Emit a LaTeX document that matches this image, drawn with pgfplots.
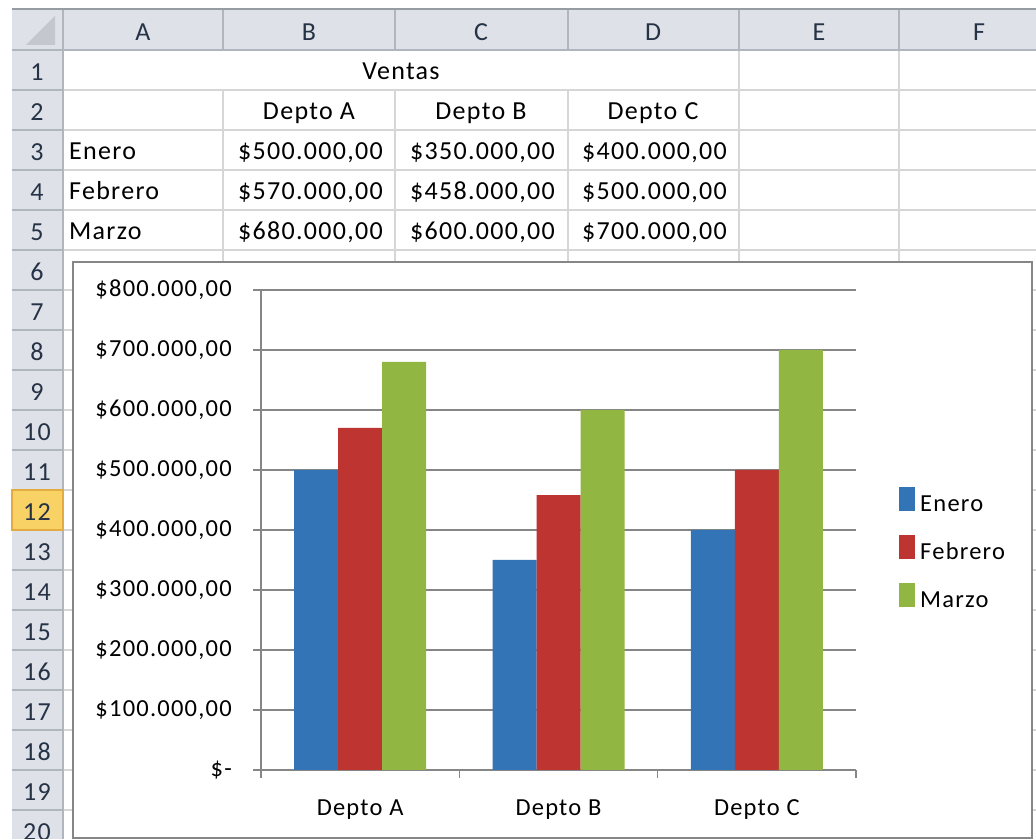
\documentclass[border=0pt]{standalone}
\usepackage{pgfplots}
\pgfplotsset{compat=1.18}
\usepackage{fontspec}
\setmainfont{Carlito}[LetterSpace=5]
\definecolor{hdr}{RGB}{222,226,232}
\definecolor{hdrline}{RGB}{176,182,190}
\definecolor{hdrtop}{RGB}{150,156,164}
\definecolor{hdrtext}{RGB}{38,50,70}
\definecolor{cellline}{RGB}{214,214,214}
\definecolor{chartgray}{RGB}{134,134,134}
\definecolor{cEnero}{RGB}{50,116,181}
\definecolor{cFeb}{RGB}{190,52,48}
\definecolor{cMar}{RGB}{146,182,66}
\definecolor{selfill}{RGB}{248,210,100}
\definecolor{selline}{RGB}{228,172,64}
\definecolor{corner}{RGB}{196,200,206}
\newcommand{\cellfont}{\fontsize{26bp}{30bp}\selectfont}
\newcommand{\chartfont}{\fontsize{24.5bp}{28bp}\selectfont}
\pgfplotsset{sqlegend/.style={legend image code/.code={\path (0bp,-6bp) rectangle (16bp,18bp);\fill[##1] (0bp,2bp) rectangle (16bp,18bp);}}}
\begin{document}
\begin{tikzpicture}[x=1bp,y=1bp]
\clip (0,0) rectangle (1036,839);
\fill[white] (0,0) rectangle (1036,839);
% ---- spreadsheet grid ----
\foreach \n in {1,...,20} {
  \draw[cellline, line width=1.5bp] (63,{839-50-40*\n}) -- (1036,{839-50-40*\n});
}
\foreach \x in {223,395,568} {
  \draw[cellline, line width=1.5bp] (\x,0) -- (\x,{839-90});
}
\foreach \x in {739,899} {
  \draw[cellline, line width=1.5bp] (\x,0) -- (\x,{839-50});
}
% headers
\fill[hdr] (12,0) rectangle (63,{839-9});
\fill[hdr] (12,{839-50}) rectangle (1036,{839-9});
\foreach \n in {1,...,20} {
  \draw[hdrline, line width=1.5bp] (12,{839-50-40*\n}) -- (63,{839-50-40*\n});
}
\foreach \x in {63,223,395,568,739,899} {
  \draw[hdrline, line width=1.5bp] (\x,{839-9}) -- (\x,{839-50});
}
\draw[hdrline, line width=1.5bp] (12,{839-50}) -- (1036,{839-50});
\draw[hdrline, line width=1.5bp] (63,0) -- (63,{839-50});
\draw[hdrtop, line width=2bp] (12,{839-9}) -- (1036,{839-9});
\filldraw[fill=selfill, draw=selline, line width=1.5bp] (12,{839-530}) rectangle (63,{839-490});
\fill[corner] (55,{839-16}) -- (55,{839-45}) -- (26,{839-45}) -- cycle;
\foreach \x/\l in {143/A,309/B,481/C,653/D,819/E,979/F} {
  \node[hdrtext, font=\cellfont, inner sep=0pt, anchor=base] at (\x,{839-41}) {\l};
}
\foreach \n in {1,...,20} {
  \node[hdrtext, font=\cellfont, inner sep=0pt, anchor=base] at (37,{839-41-40*\n}) {\n};
}
% cell contents
\begin{scope}[every node/.style={font=\cellfont, inner sep=0pt}]
\node[anchor=base] at (401,{839-80}) {Ventas};
\node[anchor=base] at (309,{839-120}) {Depto A};
\node[anchor=base] at (481,{839-120}) {Depto B};
\node[anchor=base] at (653,{839-120}) {Depto C};
\node[anchor=base west] at (69,{839-160}) {Enero};
\node[anchor=base west] at (69,{839-200}) {Febrero};
\node[anchor=base west] at (69,{839-240}) {Marzo};
\node[anchor=base east] at (383,{839-160}) {\$500.000,00};
\node[anchor=base east] at (383,{839-200}) {\$570.000,00};
\node[anchor=base east] at (383,{839-240}) {\$680.000,00};
\node[anchor=base east] at (555,{839-160}) {\$350.000,00};
\node[anchor=base east] at (555,{839-200}) {\$458.000,00};
\node[anchor=base east] at (555,{839-240}) {\$600.000,00};
\node[anchor=base east] at (727,{839-160}) {\$400.000,00};
\node[anchor=base east] at (727,{839-200}) {\$500.000,00};
\node[anchor=base east] at (727,{839-240}) {\$700.000,00};
\end{scope}
% chart area
\filldraw[fill=white, draw=chartgray, line width=1.5bp] (73,1) rectangle (1032,{839-262});
\begin{axis}[
  at={(261bp,69bp)}, anchor=south west,
  scale only axis, width=595bp, height=480bp,
  xmin=0, xmax=3, ymin=0, ymax=800000,
  scaled y ticks=false,
  axis x line=bottom, axis y line=left,
  axis line style={chartgray, line width=1.5bp, -},
  ybar=0pt, bar width=44bp,
  xtick={0,1,2,3}, x tick label as interval,
  xticklabels={Depto A,Depto B,Depto C},
  ytick={0,100000,200000,300000,400000,500000,600000,700000,800000},
  yticklabels={{\$-},{\$100.000,00},{\$200.000,00},{\$300.000,00},{\$400.000,00},{\$500.000,00},{\$600.000,00},{\$700.000,00},{\$800.000,00}},
  ymajorgrids, major grid style={chartgray, line width=1.5bp},
  tick align=outside, major tick length=8bp,
  tick style={chartgray, line width=1.5bp},
  tick label style={font=\chartfont, text=black},
  yticklabel style={anchor=east, inner sep=0pt, xshift=-21bp},
  xticklabel style={anchor=base, inner sep=0pt, yshift=-38bp},
  legend style={at={(1.0723,0.458)}, anchor=west, draw=none, fill=none,
    font=\chartfont, inner sep=0pt, row sep=18bp,
    nodes={inner sep=0pt, text height=18bp, text depth=6bp},
    cells={anchor=west},
    /tikz/every odd column/.append style={column sep=5bp}},
  clip=false,
]
\addplot[fill=cEnero, draw=none, sqlegend]
  coordinates {(0.5,500000) (1.5,350000) (2.5,400000)};
\addplot[fill=cFeb, draw=none, sqlegend]
  coordinates {(0.5,570000) (1.5,458000) (2.5,500000)};
\addplot[fill=cMar, draw=none, sqlegend]
  coordinates {(0.5,680000) (1.5,600000) (2.5,700000)};
\legend{Enero,Febrero,Marzo}
\end{axis}
\end{tikzpicture}
\end{document}
